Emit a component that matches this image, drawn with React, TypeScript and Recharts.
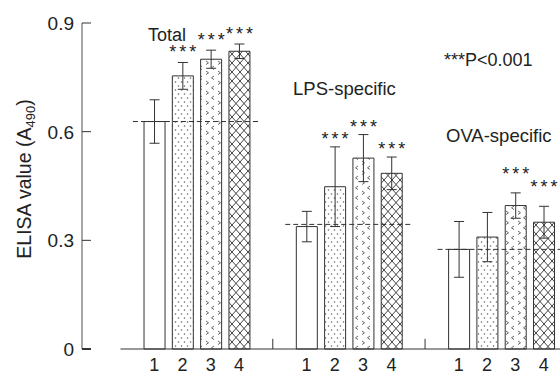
import React from "react";
import {
  BarChart,
  Bar,
  XAxis,
  YAxis,
  Cell,
  ErrorBar,
  LabelList,
  ReferenceLine,
} from "recharts";

const groupNames = ["Total", "LPS-specific", "OVA-specific"];
const treatmentLabels = ["1", "2", "3", "4"];

const totalMeans = [0.628, 0.754, 0.8, 0.822];
const totalErrors = [0.06, 0.037, 0.025, 0.02];
const totalStars = ["", "***", "***", "***"];

const lpsMeans = [0.338, 0.448, 0.527, 0.485];
const lpsErrors = [0.042, 0.11, 0.065, 0.045];
const lpsStars = ["", "***", "***", "***"];

const ovaMeans = [0.275, 0.309, 0.396, 0.35];
const ovaErrors = [0.077, 0.068, 0.035, 0.044];
const ovaStars = ["", "", "***", "***"];

// dashed control level drawn across each group
const controlLevels = [0.628, 0.344, 0.275];
const yTicks = [0, 0.3, 0.6, 0.9];

const FONT = '"Liberation Sans", Arial, Helvetica, sans-serif';
const INK = "#222";
const LINE = "#333";

// bar slots: each bar takes one unit, groups are GROUP_STEP units apart
const GROUP_STEP = 5.38;
const X_DOMAIN: [number, number] = [-2.55, 15.75];
const fills = ["#fff", "url(#dots)", "url(#chevrons)", "url(#hatch)"];
// how far the stars sit above the error bar, per group (px)
const STAR_LIFT = [4, 2, 13];

const series = [
  { means: totalMeans, errors: totalErrors, stars: totalStars },
  { means: lpsMeans, errors: lpsErrors, stars: lpsStars },
  { means: ovaMeans, errors: ovaErrors, stars: ovaStars },
];

const data = series.flatMap((s, g) =>
  s.means.map((mean, i) => ({
    pos: g * GROUP_STEP + i,
    group: g,
    mean,
    err: s.errors[i],
    stars: s.stars[i],
    treatment: i,
  }))
);

const fmtY = (v: number) => (v === 0 ? "0" : v.toFixed(1));

const YTick = (props: any) => {
  const { y, payload } = props;
  return (
    <g>
      <line
        x1={82}
        x2={91}
        y1={y}
        y2={y}
        stroke={LINE}
        strokeWidth={payload.value === 0 ? 2 : 1}
      />
      <text
        x={74}
        y={y}
        dy="0.36em"
        textAnchor="end"
        fontSize={19}
        fill={INK}
        fontFamily={FONT}
      >
        {fmtY(payload.value)}
      </text>
    </g>
  );
};

// "***" placed just above the top of each error bar
const StarLabel = (props: any) => {
  const vb = props.viewBox ?? props;
  const { index } = props;
  const row = data[index];
  if (!row || !row.stars) return null;
  const { x, y, width, height } = vb;
  const perUnit = Math.abs(height) / row.mean;
  const errTop = y - row.err * perUnit;
  return (
    <text
      x={x + width / 2 + 1.5}
      y={errTop - STAR_LIFT[row.group]}
      textAnchor="middle"
      fontSize={18}
      letterSpacing={3}
      fill={INK}
      fontFamily={FONT}
    >
      {row.stars}
    </text>
  );
};

const sepPositions = [0, 1].map((g) => g * GROUP_STEP + 3 + (GROUP_STEP - 3) / 2);

const App = () => {
  return (
    <div
      style={{
        position: "absolute",
        left: 0,
        top: 0,
        width: 560,
        height: 376,
        overflow: "hidden",
        background: "#fff",
        fontFamily: FONT,
      }}
    >
      <BarChart
        width={600}
        height={376}
        data={data}
        margin={{ top: 23, right: 0, left: 0, bottom: 0 }}
      >
        <defs>
          <pattern id="dots" width="6" height="8" patternUnits="userSpaceOnUse">
            <rect width="6" height="8" fill="#fff" />
            <circle cx="1.5" cy="2" r="0.8" fill="#666" />
            <circle cx="4.5" cy="6" r="0.8" fill="#666" />
          </pattern>
          <pattern id="chevrons" width="12" height="10" patternUnits="userSpaceOnUse">
            <rect width="12" height="10" fill="#fff" />
            <path d="M2 1 L4.5 2.8 L2 4.6" stroke="#555" fill="none" strokeWidth="0.9" />
            <path d="M10 6 L7.5 7.8 L10 9.6" stroke="#555" fill="none" strokeWidth="0.9" />
          </pattern>
          <pattern id="hatch" width="8" height="9" patternUnits="userSpaceOnUse">
            <rect width="8" height="9" fill="#fff" />
            <path d="M0 0 L8 9 M8 0 L0 9" stroke="#444" strokeWidth="1" />
          </pattern>
        </defs>
        <XAxis
          dataKey="pos"
          type="number"
          domain={X_DOMAIN}
          allowDataOverflow
          ticks={data.map((d) => d.pos)}
          interval={0}
          tickFormatter={(v: number) => {
            const row = data.find((d) => Math.abs(d.pos - v) < 1e-6);
            return row ? treatmentLabels[row.treatment] : "";
          }}
          axisLine={false}
          tickLine={false}
          tickMargin={3}
          height={27}
          tick={{ fontSize: 18, fill: INK, fontFamily: FONT }}
        />
        <YAxis
          type="number"
          domain={[0, 0.9]}
          ticks={yTicks}
          interval={0}
          width={82}
          axisLine={{ stroke: "#777", strokeWidth: 1.3 }}
          tickLine={false}
          tick={<YTick />}
        />
        <Bar
          dataKey="mean"
          barSize={21}
          stroke={LINE}
          strokeWidth={1}
          isAnimationActive={false}
        >
          {data.map((d, i) => (
            <Cell key={i} fill={fills[d.treatment]} />
          ))}
          <ErrorBar dataKey="err" width={5} stroke={LINE} strokeWidth={1} direction="y" />
          <LabelList dataKey="stars" content={StarLabel} />
        </Bar>
        <ReferenceLine
          segment={[
            { x: -1.19, y: 0 },
            { x: X_DOMAIN[1], y: 0 },
          ]}
          stroke={LINE}
          strokeWidth={1}
        />
        {sepPositions.map((x, i) => (
          <ReferenceLine
            key={`sep${i}`}
            segment={[
              { x, y: 0 },
              { x, y: 0.028 },
            ]}
            stroke={LINE}
            strokeWidth={1}
          />
        ))}
        {controlLevels.map((c, g) => (
          <ReferenceLine
            key={`ctl${g}`}
            segment={[
              { x: g * GROUP_STEP - 0.75, y: c },
              { x: g * GROUP_STEP + 3.7, y: c },
            ]}
            stroke={LINE}
            strokeWidth={1}
            strokeDasharray="5 3"
          />
        ))}
        <text
          transform="rotate(-90)"
          x={-179}
          y={31}
          textAnchor="middle"
          fontSize={19.5}
          fill={INK}
          fontFamily={FONT}
        >
          ELISA value (A
          <tspan fontSize={13} dy={4}>
            490
          </tspan>
          <tspan dy={-4}>)</tspan>
        </text>
        <text x={148} y={41} fontSize={18} fill={INK} fontFamily={FONT}>
          {groupNames[0]}
        </text>
        <text x={293} y={95} fontSize={18.5} fill={INK} fontFamily={FONT}>
          {groupNames[1]}
        </text>
        <text x={446} y={141.5} fontSize={18.5} fill={INK} fontFamily={FONT}>
          {groupNames[2]}
        </text>
        <text x={444} y={65.5} fontSize={18} fill={INK} fontFamily={FONT}>
          ***P&lt;0.001
        </text>
      </BarChart>
    </div>
  );
};

export default App;
